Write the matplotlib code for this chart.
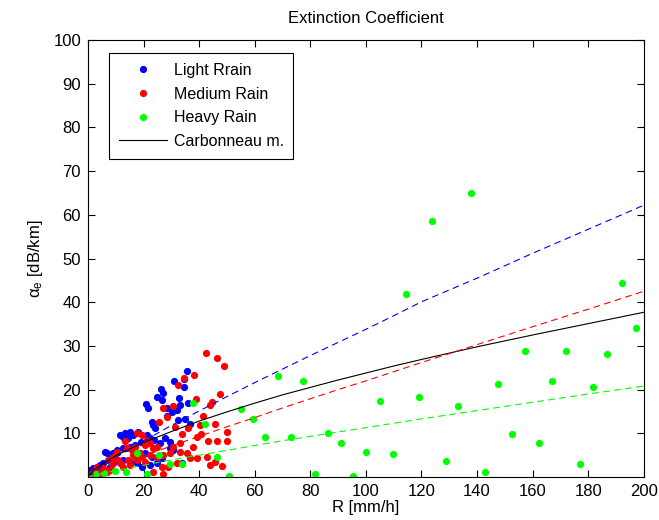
import matplotlib
matplotlib.use('Agg')
import matplotlib.pyplot as plt

plt.rcParams['font.family'] = ['Liberation Sans', 'DejaVu Sans']

# Light rain measurements (R, alpha)
light_r = [35.5, 31.0, 34.5, 34.6, 26.1, 26.9, 24.9, 26.5, 32.7, 20.9, 21.7, 28.3, 30.1, 31.9,
           33.1, 36.1, 28.5, 32.5, 34.9, 22.9, 23.3, 11.5, 13.3, 15.1, 12.7, 14.5, 18.1, 16.3,
           21.1, 22.3, 23.7, 27.7, 29.5, 25.9, 12.7, 10.3, 9.1, 6.7, 6.1, 15.1, 16.9, 20.5,
           22.9, 29.5, 30.7, 26.5, 24.7, 33.7, 22.3, 19.3, 0.7, 1.9, 3.1, 4.3, 5.5, 7.9, 9.1,
           1.3, 3.7, 12.7, 15.1, 17.5, 0.3, 2.5, 8.5, 18.9, 24.1, 36.6]
light_a = [24.3, 22.0, 22.4, 20.7, 20.1, 19.3, 18.4, 17.6, 18.0, 16.6, 15.7, 15.7, 14.9, 15.3,
           16.5, 16.9, 14.0, 13.0, 13.2, 12.7, 11.9, 9.6, 10.0, 10.4, 9.2, 8.9, 10.4, 9.6,
           9.6, 8.9, 8.5, 8.9, 8.1, 7.7, 6.6, 6.2, 5.4, 5.4, 5.8, 6.9, 7.3, 5.4,
           4.6, 6.6, 6.2, 4.3, 3.1, 3.1, 2.7, 2.4, 1.6, 2.0, 2.4, 2.7, 3.1, 2.4, 3.1,
           0.8, 1.2, 3.9, 3.5, 3.1, 0.4, 1.0, 4.6, 7.9, 11.2, 12.2]

# Medium rain measurements
medium_r = [42.4, 46.5, 48.9, 38.2, 34.6, 32.3, 47.5, 38.8, 44.8, 43.9, 26.9, 30.5, 28.3,
            41.5, 45.7, 31.3, 36.1, 17.5, 19.3, 39.1, 40.5, 49.9, 21.1, 22.3, 20.5, 24.7,
            23.5, 30.7, 33.1, 43.3, 46.5, 50.1, 37.9, 16.9, 15.7, 13.9, 10.3, 9.1, 7.3, 10.9,
            22.3, 24.7, 27.1, 29.5, 33.1, 35.5, 36.7, 39.1, 42.7, 45.7, 43.9, 48.1, 31.9,
            28.9, 26.5, 23.5, 27.1, 12.7, 15.1, 11.5, 14.5, 3.1, 5.5, 7.9, 4.3, 6.7, 17.5,
            19.3, 20.5, 18.7, 16.3, 1.2, 2.2, 8.6, 13.2, 25.5, 34.0, 40.2]
medium_a = [28.3, 27.2, 25.4, 23.3, 22.6, 21.1, 19.0, 17.8, 17.2, 16.5, 15.7, 16.2, 13.8,
            14.0, 12.1, 11.4, 11.1, 10.0, 9.6, 9.2, 9.8, 10.2, 8.5, 7.7, 7.3, 6.9,
            6.6, 6.9, 7.7, 8.3, 8.3, 8.3, 6.9, 6.9, 6.2, 6.6, 5.8, 4.6, 3.9, 3.9,
            5.0, 4.6, 5.0, 5.4, 5.8, 5.4, 4.3, 4.3, 4.5, 3.5, 2.7, 2.6, 3.1,
            2.4, 2.4, 1.2, 0.6, 2.4, 2.7, 3.1, 3.9, 2.4, 2.0, 1.6, 0.8, 1.2, 3.9,
            4.6, 3.5, 5.4, 5.0, 0.6, 1.1, 2.9, 8.2, 12.6, 9.9, 11.8]

# Heavy rain measurements
heavy_r = [0.1, 2.8, 5.9, 9.7, 13.6, 17.5, 21.3, 25.4, 29.5, 33.9, 37.9, 42.1, 46.3, 50.8,
           55.2, 59.5, 63.7, 68.2, 72.9, 77.5, 81.7, 86.2, 90.9, 95.4, 100.0, 105.1, 109.7,
           114.3, 119.0, 123.6, 128.7, 133.2, 137.9, 143.0, 147.6, 152.6, 157.2, 162.3,
           166.9, 171.9, 177.0, 181.8, 186.8, 192.0, 197.0]
heavy_a = [0.1, 0.7, 1.0, 1.4, 1.1, 5.4, 0.6, 5.0, 2.9, 2.9, 16.9, 12.1, 4.6, 0.2,
           15.5, 13.2, 9.2, 23.1, 9.2, 21.9, 0.7, 10.1, 7.8, 0.2, 5.8, 17.5, 5.2,
           41.8, 18.4, 58.5, 3.7, 16.3, 65.0, 1.1, 21.3, 9.8, 28.9, 7.8,
           21.9, 28.9, 2.9, 20.7, 28.1, 44.5, 34.2]

# fitted curves
fit_r = [0, 2, 5, 10, 20, 30, 40, 50, 60, 70, 80, 90, 100, 110, 120, 140, 160, 180, 200]
fit_light = [0, 1.0, 2.4, 4.45, 8.2, 11.8, 15.1, 18.4, 21.6, 24.7, 27.8, 30.8, 33.8, 36.9,
             40.1, 45.5, 51.2, 56.7, 62.2]
fit_medium = [0, 0.5, 1.3, 2.47, 4.8, 7.1, 9.3, 11.5, 13.6, 15.8, 17.9, 20.0, 22.0, 24.1,
              26.2, 30.3, 34.4, 38.4, 42.5]
fit_heavy = [0, 0.35, 0.8, 1.45, 2.7, 3.9, 5.0, 6.1, 7.2, 8.3, 9.3, 10.3, 11.3, 12.3,
             13.3, 15.2, 17.1, 19.0, 20.8]
carbonneau = [0, 1.6, 2.9, 4.9, 7.9, 10.4, 12.8, 14.9, 16.9, 18.8, 20.5, 22.2, 23.8, 25.4,
              26.9, 29.8, 32.5, 35.1, 37.7]

fig = plt.figure(figsize=(6.59, 5.20), dpi=100)
ax = fig.add_axes([0.1335, 0.0827, 0.8435, 0.8403])

ax.plot(light_r, light_a, 'o', color='#0000ff', markersize=5.2, markeredgewidth=0, label='Light Rrain')
ax.plot(medium_r, medium_a, 'o', color='#ff0000', markersize=5.2, markeredgewidth=0, label='Medium Rain')
ax.plot(heavy_r, heavy_a, 'o', color='#00ff00', markersize=5.2, markeredgewidth=0, label='Heavy Rain')
ax.plot(fit_r, carbonneau, '-', color='black', linewidth=0.8, label='Carbonneau m.')
ax.plot(fit_r, fit_light, '--', color='#0000ff', linewidth=0.8, dashes=(6, 4))
ax.plot(fit_r, fit_medium, '--', color='#ff0000', linewidth=0.8, dashes=(6, 4))
ax.plot(fit_r, fit_heavy, '--', color='#00ff00', linewidth=0.8, dashes=(6, 4))

ax.set_xlim(0, 200)
ax.set_ylim(0, 100)
ax.set_xticks(range(0, 201, 20))
ax.set_yticks(range(10, 101, 10))
ax.tick_params(direction='in', top=True, right=True, labelsize=12, length=5, pad=5)
for s in ax.spines.values():
    s.set_linewidth(0.8)

ax.set_title('Extinction Coefficient', fontsize=12, pad=12)
ax.set_xlabel('R [mm/h]', fontsize=12, labelpad=1)
ax.set_ylabel(r'$\mathregular{\alpha_e}$ [dB/km]', fontsize=12, labelpad=6)

leg = ax.legend(loc='upper left', bbox_to_anchor=(0.038, 0.97), borderaxespad=0, fontsize=11.5,
                fancybox=False, edgecolor='black', framealpha=1, handlelength=3.0, numpoints=1,
                borderpad=0.6, labelspacing=0.55, handletextpad=0.45)
leg.get_frame().set_linewidth(0.8)

plt.savefig('out.png', dpi=100)
